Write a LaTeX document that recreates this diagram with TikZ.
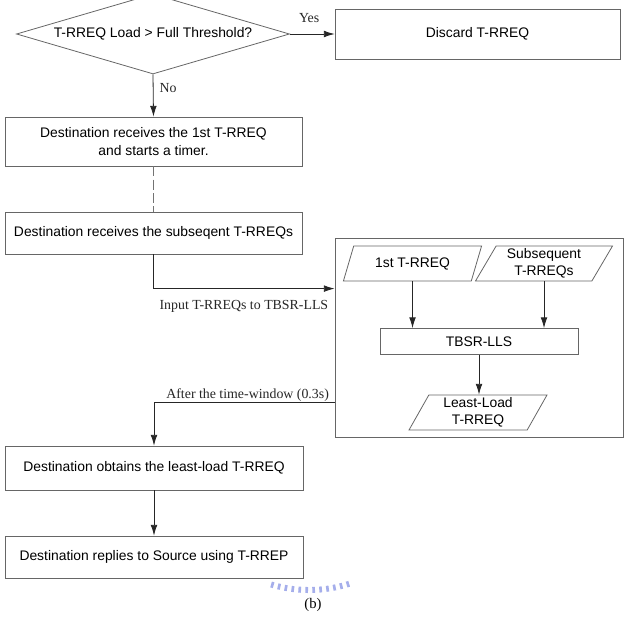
\documentclass[tikz,border=0pt]{standalone}
\usepackage{fontspec}
\setmainfont{Liberation Serif}
\setsansfont{Liberation Sans}
\usepackage{tikz}
\usetikzlibrary{shapes.geometric}
\usetikzlibrary{arrows.meta}
\tikzset{>={Latex[length=8pt,width=5pt]}}
\definecolor{wmark}{RGB}{165,174,235}
\tikzset{
  boxtxt/.style={font=\sffamily\fontsize{10.4}{13}\selectfont, align=center},
  proc/.style={boxtxt, draw=black!60, line width=0.6pt, rectangle, inner sep=0pt},
  io/.style={boxtxt, draw=black!60, line width=0.6pt, trapezium, trapezium stretches=true, inner sep=0pt},
  decide/.style={boxtxt, draw=black!60, line width=0.6pt, diamond, aspect=3.4, inner sep=0pt},
  lbl/.style={font=\fontsize{10.4}{12}\selectfont, inner sep=0pt},
  flow/.style={->, black!85, line width=0.6pt}
}

\begin{document}
\begin{tikzpicture}[x=0.75pt,y=-0.75pt]
  \clip (0,0) rectangle (631,638);
  % main column
  \node[decide, minimum width=204.75pt, minimum height=60pt] (cond) at (153,34) {T-RREQ Load > Full Threshold?};
  \node[proc, minimum width=213.75pt, minimum height=37.5pt] (discard) at (477.5,34) {Discard T-RREQ};
  \node[proc, minimum width=222.75pt, minimum height=36.75pt] (recv1) at (153.5,141.5) {Destination receives the 1st T-RREQ\\and starts a timer.};
  \node[proc, minimum width=222.75pt, minimum height=31.5pt] (recv2) at (153.5,233) {Destination receives the subseqent T-RREQs};
  \node[proc, minimum width=223.5pt, minimum height=33pt] (obtain) at (154,468) {Destination obtains the least-load T-RREQ};
  \node[proc, minimum width=223.5pt, minimum height=31.5pt] (reply) at (154,557) {Destination replies to Source using T-RREP};
  % TBSR-LLS block
  \node[proc, minimum width=216pt, minimum height=149.25pt] (group) at (479,337.5) {};
  \node[io, trapezium left angle=62, trapezium right angle=118, minimum width=104.25pt, minimum height=26.25pt] (first) at (412.5,263.5) {1st T-RREQ};
  \node[io, trapezium left angle=62, trapezium right angle=118, minimum width=103.5pt, minimum height=26.25pt] (subs) at (544,263.5) {Subsequent\\T-RREQs};
  \node[proc, minimum width=148.5pt, minimum height=19.5pt] (tbsr) at (479,341.5) {TBSR-LLS};
  \node[io, trapezium left angle=65, trapezium right angle=115, minimum width=104.25pt, minimum height=26.25pt] (least) at (478,412.5) {Least-Load\\T-RREQ};

  \draw[flow] (cond.east) -- node[lbl, anchor=base, pos=.43, yshift=8.5pt] (yes) {Yes} (discard.west);
  \draw[flow] (cond.south) -- node[lbl, anchor=base west, pos=.44, xshift=4.5pt] (no) {No} (recv1.north);
  \draw[black!55, line width=0.6pt, dash pattern=on 7.5pt off 2.5pt] (recv1.south) -- (recv2.north);
  \coordinate (gin) at ([yshift=-38.25pt]group.north west);
  \coordinate (gout) at ([yshift=-123.75pt]group.north west);
  \draw[flow] (recv2.south) |- (gin) node[lbl, anchor=base east, xshift=-4.5pt, yshift=-15.4pt] (inlbl) {Input T-RREQs to TBSR-LLS};
  \draw[flow] (first.south) -- (first.south |- tbsr.north);
  \draw[flow] (subs.south) -- (subs.south |- tbsr.north);
  \draw[flow] (tbsr.south) -- (tbsr.south |- least.north);
  \draw[flow] (gout) node[lbl, anchor=base east, xshift=-4pt, yshift=3.3pt] (outlbl) {After the time-window (0.3s)} -| (obtain.north);
  \draw[flow] (obtain.south) -- (reply.north);

  % watermark and caption
  \foreach \a in {73,76,...,107}
    \draw[wmark, line width=2pt, shift={(309,457)}] (\a:130) -- (\a:136);
  \node[lbl, font=\fontsize{11}{12}\selectfont] (cap) at (313,605) {(b)};
\end{tikzpicture}
\end{document}
